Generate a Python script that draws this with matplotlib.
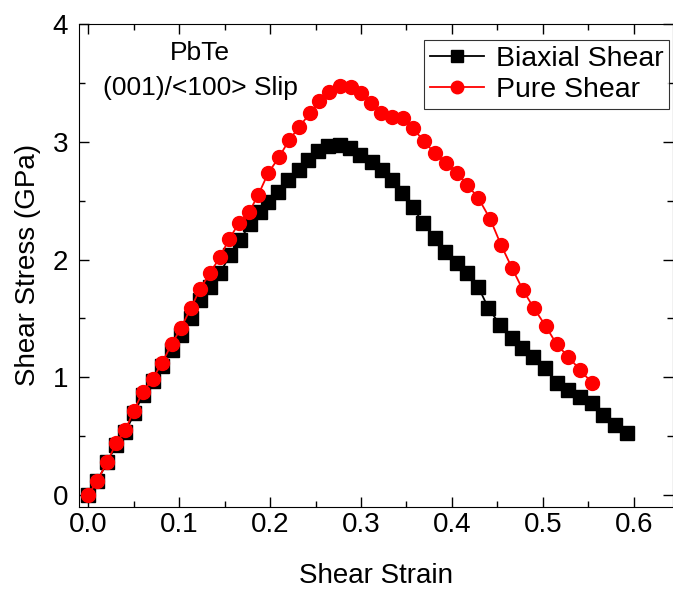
import matplotlib
matplotlib.use("Agg")
import matplotlib.pyplot as plt
from matplotlib.ticker import MultipleLocator

plt.rcParams['font.family'] = ['Liberation Sans', 'DejaVu Sans']

# Biaxial shear (strain, stress in GPa)
biaxial_strain = [0.000, 0.010, 0.021, 0.031, 0.041, 0.051, 0.060, 0.071, 0.081, 0.092,
                  0.102, 0.113, 0.123, 0.134, 0.145, 0.156, 0.167, 0.178, 0.189, 0.198,
                  0.209, 0.220, 0.232, 0.242, 0.253, 0.264, 0.277, 0.288, 0.299, 0.312,
                  0.323, 0.334, 0.345, 0.357, 0.368, 0.381, 0.392, 0.406, 0.417, 0.429,
                  0.440, 0.453, 0.466, 0.477, 0.489, 0.502, 0.515, 0.528, 0.541, 0.554,
                  0.566, 0.579, 0.592]
biaxial_stress = [0.000, 0.119, 0.280, 0.425, 0.535, 0.696, 0.849, 0.968, 1.096, 1.231,
                  1.359, 1.503, 1.656, 1.766, 1.885, 2.038, 2.166, 2.301, 2.403, 2.488,
                  2.573, 2.675, 2.760, 2.845, 2.921, 2.964, 2.972, 2.947, 2.887, 2.828,
                  2.760, 2.675, 2.565, 2.446, 2.310, 2.183, 2.064, 1.970, 1.885, 1.766,
                  1.588, 1.444, 1.333, 1.248, 1.172, 1.079, 0.951, 0.892, 0.832, 0.781,
                  0.679, 0.594, 0.527]

# Pure shear
pure_strain = [0.000, 0.010, 0.021, 0.031, 0.041, 0.050, 0.060, 0.071, 0.081, 0.092,
               0.102, 0.113, 0.123, 0.134, 0.145, 0.155, 0.166, 0.177, 0.187, 0.198,
               0.210, 0.221, 0.232, 0.244, 0.254, 0.265, 0.277, 0.289, 0.300, 0.311,
               0.322, 0.334, 0.346, 0.357, 0.369, 0.381, 0.393, 0.406, 0.417, 0.429,
               0.442, 0.454, 0.466, 0.478, 0.490, 0.503, 0.515, 0.528, 0.541, 0.554]
pure_stress = [0.000, 0.119, 0.280, 0.442, 0.552, 0.713, 0.875, 0.985, 1.121, 1.282,
               1.418, 1.588, 1.749, 1.885, 2.021, 2.174, 2.310, 2.403, 2.548, 2.735,
               2.870, 3.015, 3.125, 3.244, 3.346, 3.423, 3.473, 3.465, 3.414, 3.329,
               3.244, 3.210, 3.202, 3.117, 3.006, 2.904, 2.820, 2.735, 2.633, 2.522,
               2.344, 2.123, 1.928, 1.741, 1.588, 1.435, 1.282, 1.172, 1.062, 0.951]

fig = plt.figure(figsize=(6.73, 5.90), dpi=100)
ax = fig.add_axes([0.1174, 0.141, 0.8826, 0.8183])

ax.plot(biaxial_strain, biaxial_stress, color='black', marker='s', markersize=9.5,
        linewidth=1.3, label='Biaxial Shear')
ax.plot(pure_strain, pure_stress, color='red', marker='o', markersize=10,
        linewidth=1.3, label='Pure Shear')

ax.set_xlim(-0.01, 0.643)
ax.set_ylim(-0.1, 4.0)
ax.xaxis.set_major_locator(MultipleLocator(0.1))
ax.xaxis.set_minor_locator(MultipleLocator(0.05))
ax.yaxis.set_major_locator(MultipleLocator(1))
ax.yaxis.set_minor_locator(MultipleLocator(0.5))
ax.xaxis.set_major_formatter(matplotlib.ticker.FormatStrFormatter('%.1f'))

ax.tick_params(which='both', direction='in', top=True, right=True, labelsize=20)
ax.tick_params(which='major', length=7, width=1)
ax.tick_params(which='minor', length=4, width=1)
ax.tick_params(axis='x', pad=4)
ax.tick_params(axis='y', pad=8)

ax.set_xlabel('Shear Strain', fontsize=20, labelpad=18)
ax.set_ylabel('Shear Stress (GPa)', fontsize=20, labelpad=8)

ax.text(0.123, 3.75, 'PbTe', fontsize=19, ha='center', va='center')
ax.text(0.123, 3.46, '(001)/<100> Slip', fontsize=19, ha='center', va='center')

leg = ax.legend(loc='upper right', fontsize=20.5, frameon=True, fancybox=False,
                edgecolor='black', handlelength=1.9, borderpad=0.2,
                labelspacing=0.2, handletextpad=0.4, borderaxespad=0,
                bbox_to_anchor=(0.993, 0.967))
leg.get_frame().set_linewidth(0.8)
for h in leg.legend_handles:
    h.set_markersize(9)

fig.savefig('out.png', dpi=100)
